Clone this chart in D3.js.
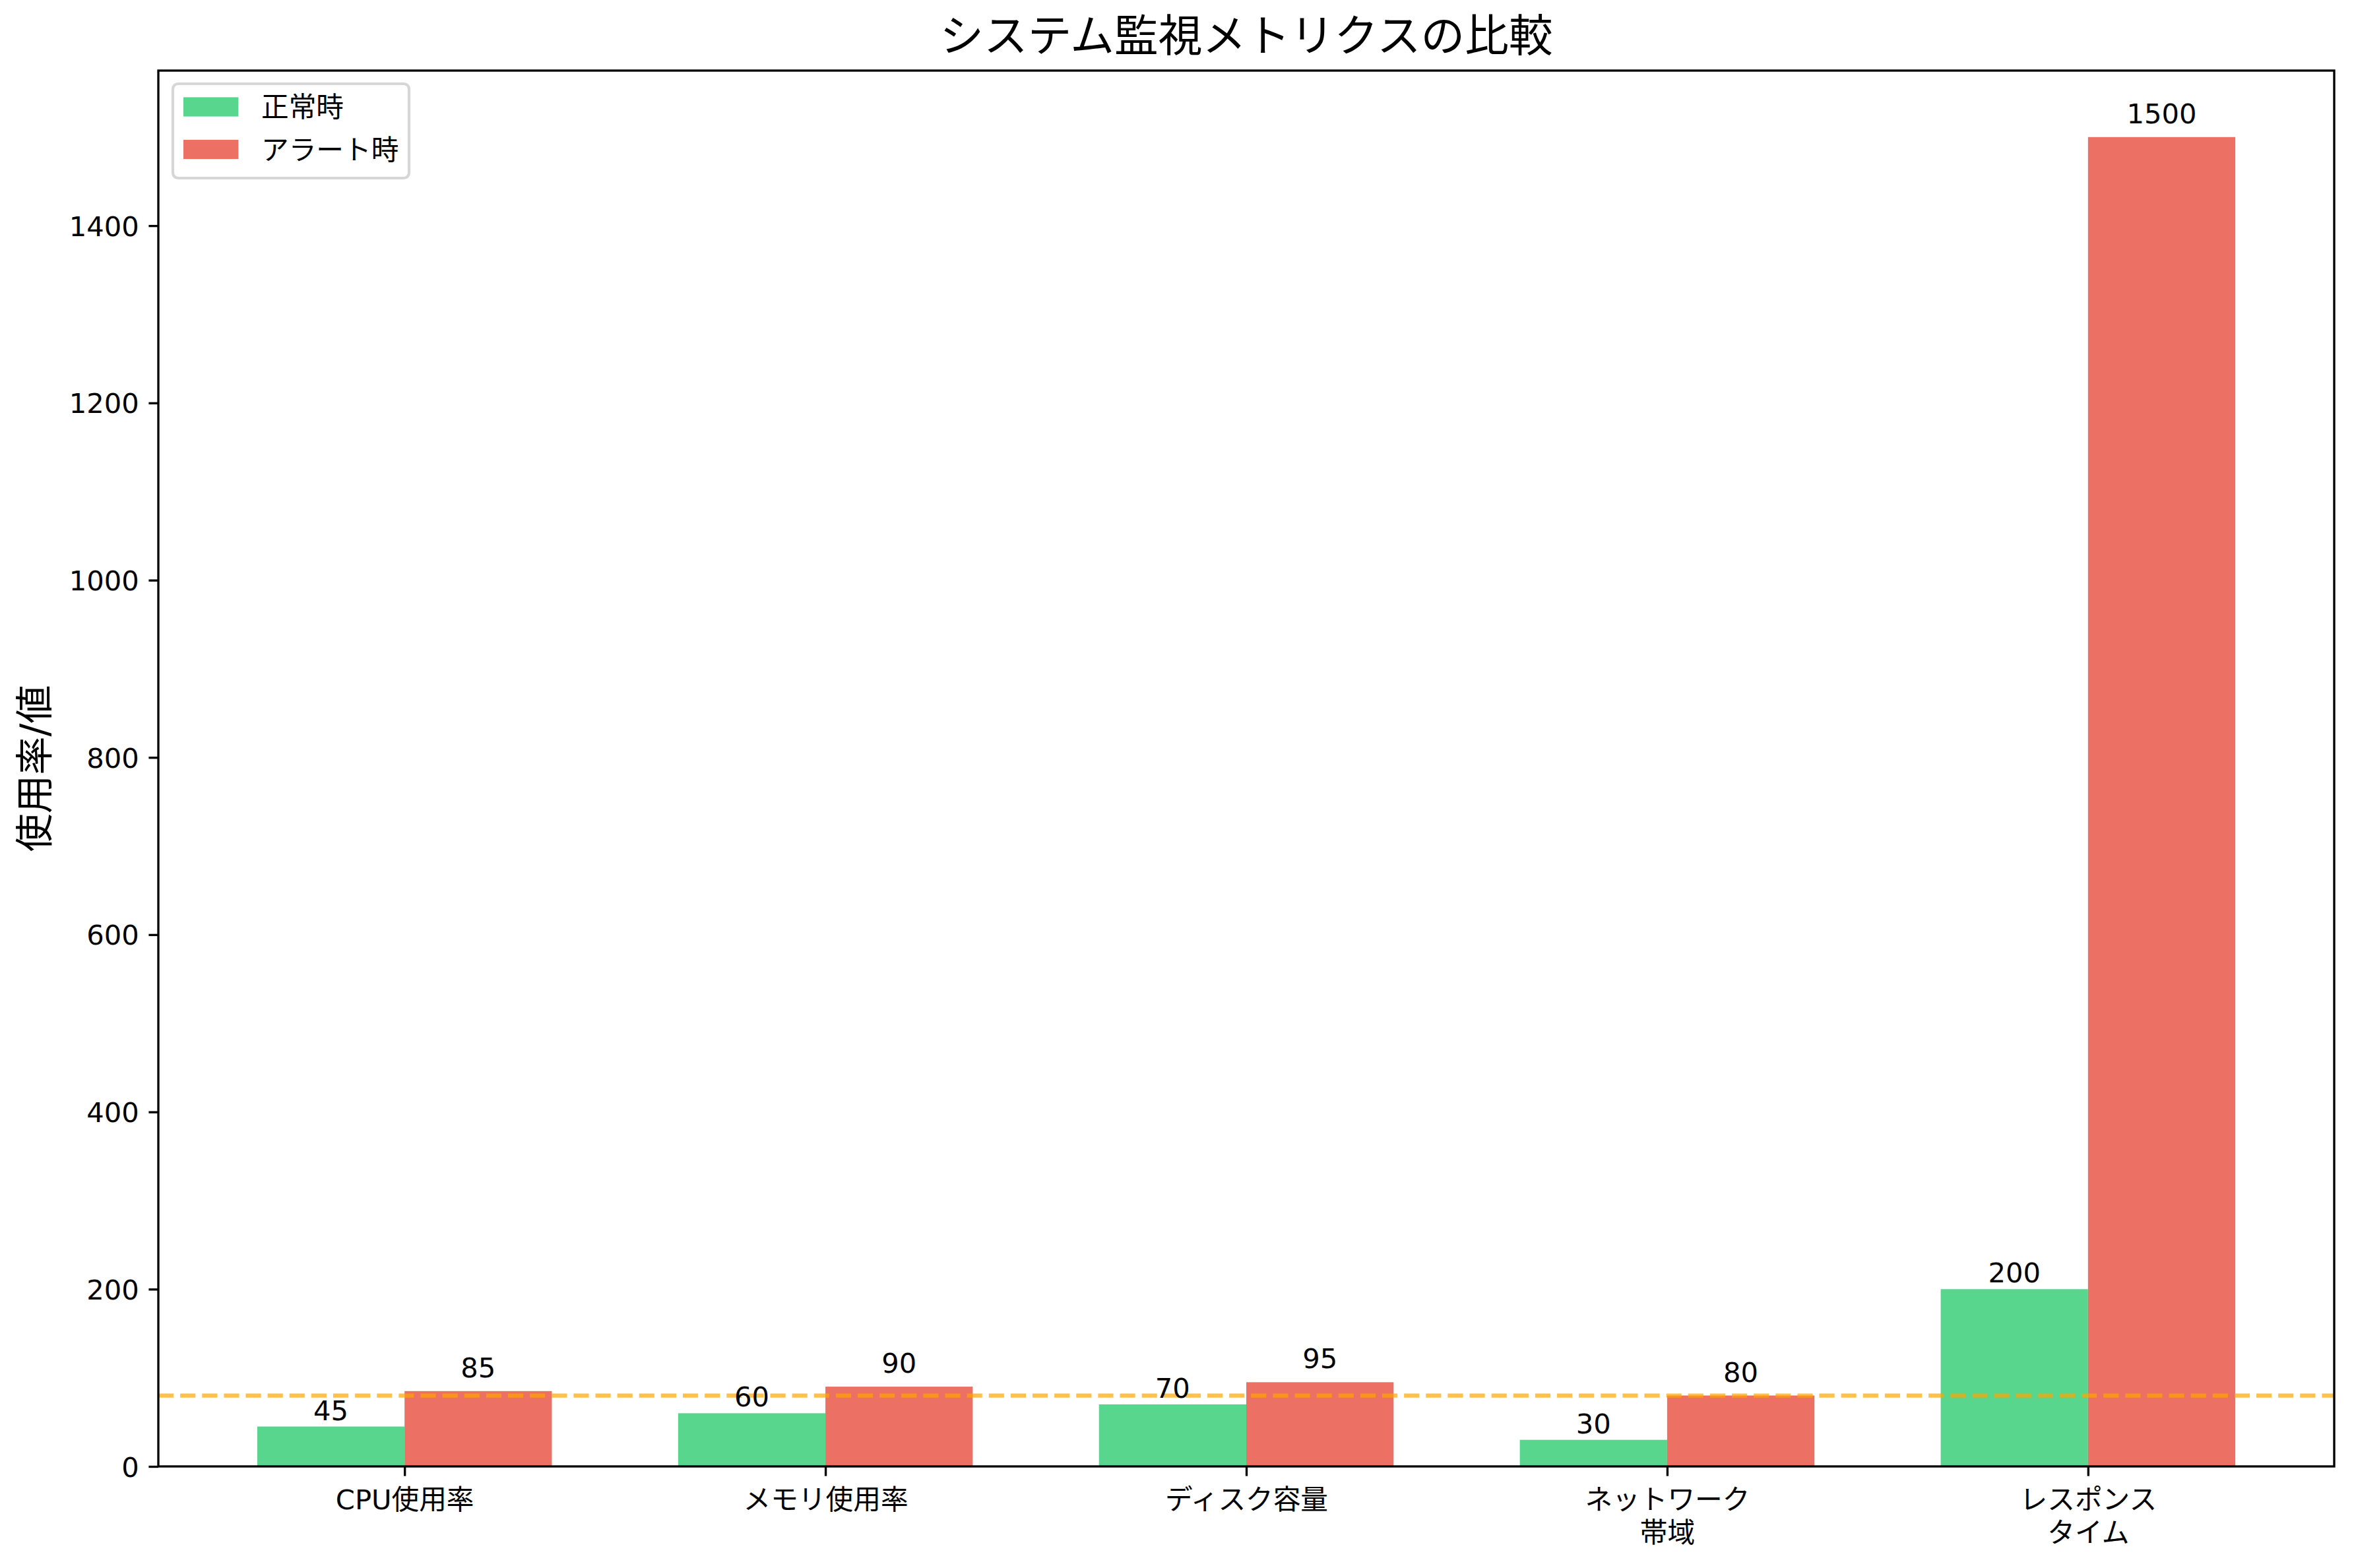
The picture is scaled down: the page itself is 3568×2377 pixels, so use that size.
<!DOCTYPE html>
<meta charset="utf-8">
<style type="text/css">
    body { margin: 0; background: white; }
    svg text { font-family: "DejaVu Sans", "Noto Sans CJK JP", sans-serif; fill: black; }
</style>
<body>
<script src="https://cdn.jsdelivr.net/npm/d3@7"></script>
<script>
    // data
    var categories = ["CPU使用率", "メモリ使用率", "ディスク容量", "ネットワーク\n帯域", "レスポンス\nタイム"];
    var normalValues = [45, 60, 70, 30, 200];
    var alertValues = [85, 90, 95, 80, 1500];
    var threshold = 80;
    var yTicks = [0, 200, 400, 600, 800, 1000, 1200, 1400];
    var seriesNames = ["正常時", "アラート時"];
    var seriesColors = ["#58d68d", "#ec7063"];

    // sizes (300 dpi, 1pt = 4.1667px)
    var W = 3568, H = 2377;
    var axLeft = 240, axRight = 3538, axTop = 107, axBottom = 2223;
    var pt = 300 / 72;
    var fs = 10 * pt;
    var barWidth = 0.35;

    var svg = d3.select("body").append("svg")
        .attr("width", W)
        .attr("height", H);

    var x = d3.scaleLinear().domain([-0.585, 4.585]).range([axLeft, axRight]);
    var y = d3.scaleLinear().domain([0, 1575]).range([axBottom, axTop]);

    // bars
    var idx = d3.range(categories.length);
    svg.selectAll("rect.normal")
        .data(idx).enter().append("rect")
        .attr("class", "normal")
        .attr("x", function(i) { return x(i - barWidth); })
        .attr("width", function(i) { return x(i) - x(i - barWidth); })
        .attr("y", function(i) { return y(normalValues[i]); })
        .attr("height", function(i) { return y(0) - y(normalValues[i]); })
        .attr("fill", seriesColors[0]);

    svg.selectAll("rect.alert")
        .data(idx).enter().append("rect")
        .attr("class", "alert")
        .attr("x", function(i) { return x(i); })
        .attr("width", function(i) { return x(i + barWidth) - x(i); })
        .attr("y", function(i) { return y(alertValues[i]); })
        .attr("height", function(i) { return y(0) - y(alertValues[i]); })
        .attr("fill", seriesColors[1]);

    // threshold line
    svg.append("line")
        .attr("x1", axLeft).attr("x2", axRight)
        .attr("y1", y(threshold)).attr("y2", y(threshold))
        .attr("stroke", "orange")
        .attr("stroke-opacity", 0.7)
        .attr("stroke-width", 1.5 * pt)
        .attr("stroke-dasharray", (3.7 * 1.5 * pt) + "," + (1.6 * 1.5 * pt));

    // value labels
    svg.selectAll("text.vn")
        .data(idx).enter().append("text")
        .attr("class", "vn")
        .attr("x", function(i) { return x(i - barWidth / 2); })
        .attr("y", function(i) { return y(normalValues[i]) - 10; })
        .attr("text-anchor", "middle")
        .attr("font-size", fs)
        .text(function(i) { return normalValues[i]; });

    svg.selectAll("text.va")
        .data(idx).enter().append("text")
        .attr("class", "va")
        .attr("x", function(i) { return x(i + barWidth / 2); })
        .attr("y", function(i) { return y(alertValues[i]) - 21; })
        .attr("text-anchor", "middle")
        .attr("font-size", fs)
        .text(function(i) { return alertValues[i]; });

    // axes
    var yAxis = svg.append("g")
        .attr("transform", "translate(" + axLeft + ",0)")
        .call(d3.axisLeft(y).tickValues(yTicks).tickSize(3.5 * pt).tickPadding(3.5 * pt).tickFormat(d3.format("d")));
    var xAxis = svg.append("g")
        .attr("transform", "translate(0," + axBottom + ")")
        .call(d3.axisBottom(x).tickValues(idx).tickSize(3.5 * pt).tickPadding(3.5 * pt).tickFormat(function() { return ""; }));

    [yAxis, xAxis].forEach(function(g) {
        g.select(".domain").remove();
        g.selectAll(".tick line").attr("stroke", "black").attr("stroke-width", 0.8 * pt);
        g.selectAll(".tick text").attr("font-size", fs).attr("fill", "black");
    });
    yAxis.attr("font-family", null).selectAll(".tick text").attr("dy", "0.36em");
    xAxis.attr("font-family", null);

    // multi-line category labels
    xAxis.selectAll(".tick text").each(function(i) {
        var t = d3.select(this).attr("dy", null).attr("y", 3.5 * pt * 2);
        categories[i].split("\n").forEach(function(line, k) {
            t.append("tspan")
                .attr("x", 0)
                .attr("dy", k === 0 ? "0.86em" : "1.2em")
                .text(line);
        });
    });

    // spines
    svg.append("rect")
        .attr("x", axLeft).attr("y", axTop)
        .attr("width", axRight - axLeft).attr("height", axBottom - axTop)
        .attr("fill", "none")
        .attr("stroke", "black")
        .attr("stroke-width", 0.8 * pt);

    // title and y label
    svg.append("text")
        .attr("x", (axLeft + axRight) / 2)
        .attr("y", 78)
        .attr("text-anchor", "middle")
        .attr("font-size", 16 * pt)
        .text("システム監視メトリクスの比較");

    svg.append("text")
        .attr("transform", "translate(53," + (axTop + axBottom) / 2 + ") rotate(-90)")
        .attr("text-anchor", "middle")
        .attr("dominant-baseline", "central")
        .attr("font-size", 14 * pt)
        .text("使用率/値");

    // legend
    var legend = svg.append("g");
    legend.append("rect")
        .attr("x", 262).attr("y", 127)
        .attr("width", 358).attr("height", 143)
        .attr("rx", 8).attr("ry", 8)
        .attr("fill", "white").attr("fill-opacity", 0.8)
        .attr("stroke", "#cccccc").attr("stroke-opacity", 0.8)
        .attr("stroke-width", 1 * pt);

    var rowCenters = [162, 226.5];
    seriesNames.forEach(function(name, k) {
        legend.append("rect")
            .attr("x", 278).attr("y", rowCenters[k] - 0.35 * fs)
            .attr("width", 2 * fs).attr("height", 0.7 * fs)
            .attr("fill", seriesColors[k]);
        legend.append("text")
            .attr("x", 396).attr("y", rowCenters[k] + 0.36 * fs)
            .attr("font-size", fs)
            .text(name);
    });
</script>
</body>
